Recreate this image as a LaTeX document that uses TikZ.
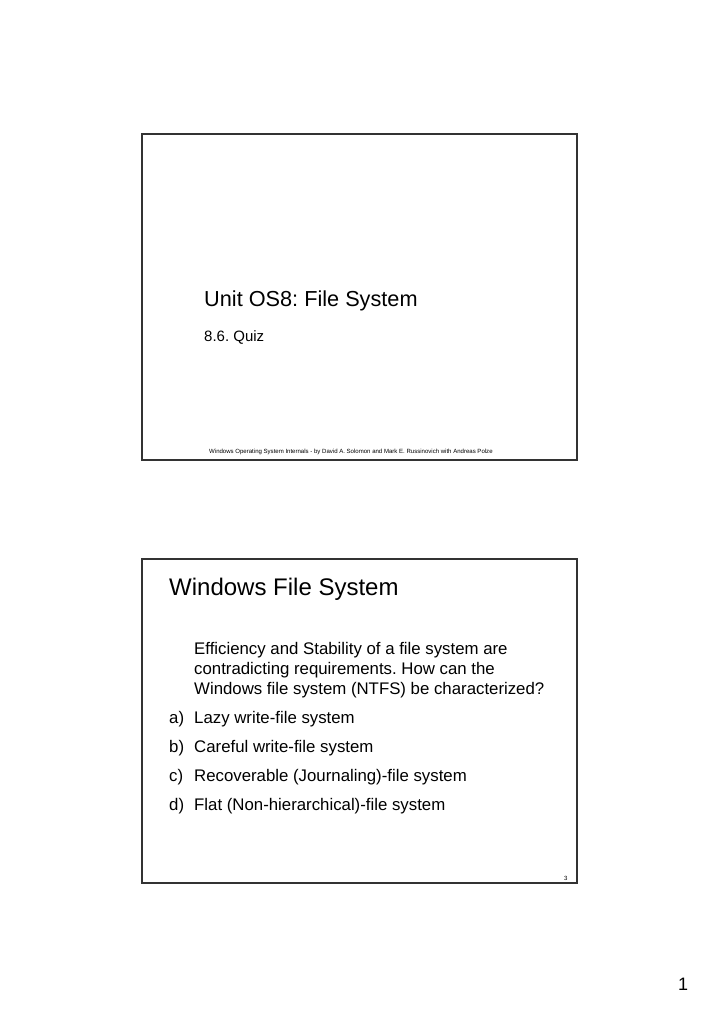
\documentclass[tikz,border=0pt]{standalone}
\usepackage{fontspec}
\setmainfont{Liberation Sans}
\usetikzlibrary{positioning}
\frenchspacing
\begin{document}
\begin{tikzpicture}[x=1pt,y=-1pt,
	slide/.style={line width=1.3pt,draw=black!80},
	txt/.style={anchor=base west,inner sep=0pt,align=left},
	body/.style={txt,font=\fontsize{16.8}{20}\selectfont}]
	\useasboundingbox (0,0) rectangle (720,1019);
	% first slide
	\draw[slide] (142,134) rectangle (577,460);
	\node[txt,font=\fontsize{21.7}{26}\selectfont] (unit) at (204,306) {Unit OS8: File System};
	\node[txt,font=\fontsize{15}{18}\selectfont] (quiz) at (204,341) {8.6. Quiz};
	\node[txt,font=\fontsize{6.05}{8}\selectfont] (foot) at (209,453) {Windows Operating System Internals - by David A. Solomon and Mark E. Russinovich with Andreas Polze};
	% second slide
	\draw[slide] (142,559) rectangle (577,883);
	\node[txt,font=\fontsize{24}{30}\selectfont] (title) at (169,595) {Windows File System};
	\node[body] (quest) at (194,694) {Efficiency and Stability of a file system are\\contradicting requirements. How can the\\Windows file system (NTFS) be characterized?};
	\foreach \lbl/\ans [count=\i] in {a/Lazy write-file system,b/Careful write-file system,c/Recoverable (Journaling)-file system,d/Flat (Non-hierarchical)-file system}{
		\node[body] (lbl\i) at (169,694+29*\i) {\lbl)};
		\node[body] (ans\i) at (194,694+29*\i) {\ans};
	}
	\node[txt,font=\fontsize{6.05}{8}\selectfont] (pgthree) at (564,880) {3};
	% page number
	\node[txt,font=\fontsize{18}{20}\selectfont] (pgone) at (678,990) {1};
\end{tikzpicture}
\end{document}
